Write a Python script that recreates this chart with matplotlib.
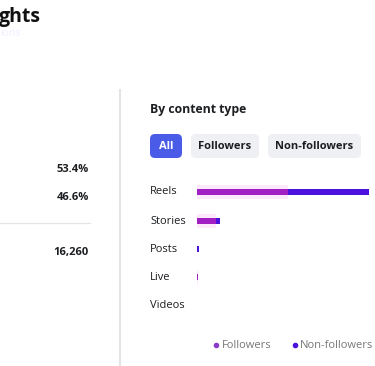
import matplotlib
matplotlib.use("Agg")
from matplotlib import pyplot as plt
from matplotlib.patches import FancyBboxPatch

plt.rcParams['font.family'] = ['Open Sans', 'DejaVu Sans']

# data
content_types = ["Reels", "Stories", "Posts", "Live", "Videos"]
followers = [53.0, 11.0, 0.0, 0.6, 0.0]
non_followers = [47.0, 2.5, 1.2, 0.0, 0.0]
summary_values = ["53.4%", "46.6%", "16,260"]
buttons = ["All", "Followers", "Non-followers"]

c_fol = "#a21fc4"
c_non = "#4a12dc"
c_text = "#1c1e21"

fig = plt.figure(figsize=(3.75, 3.66), dpi=100)
bg = fig.add_axes([0, 0, 1, 1])
bg.set_xlim(0, 375)
bg.set_ylim(366, 0)
bg.axis("off")

# header (cut off)
bg.text(-1, 17, "ghts", fontsize=14, fontweight="bold", color="#111111", va="center")
bg.text(0, 33, "ions", fontsize=7.5, color="#eef0ff", va="center")

# divider
bg.plot([120, 120], [90, 366], color="#e4e4e4", lw=1.5)

# left column numbers
bg.text(89, 170, summary_values[0], fontsize=8, fontweight="bold", color=c_text, ha="right", va="center")
bg.text(89, 197, summary_values[1], fontsize=8, fontweight="bold", color=c_text, ha="right", va="center")
bg.plot([0, 90], [223, 223], color="#e4e4e4", lw=0.9)
bg.text(89, 252, summary_values[2], fontsize=8, fontweight="bold", color=c_text, ha="right", va="center")

# right panel
bg.text(150, 109, "By content type", fontsize=8.8, fontweight="bold", color=c_text, va="center")

btn_x = [150, 191, 268]
btn_w = [32, 68, 93]
for i, name in enumerate(buttons):
    fc = "#4a5be8" if i == 0 else "#eff0f3"
    tc = "white" if i == 0 else c_text
    bg.add_patch(FancyBboxPatch((btn_x[i], 134), btn_w[i], 24,
                                boxstyle="round,pad=0,rounding_size=5",
                                fc=fc, ec="none"))
    bg.text(btn_x[i] + btn_w[i] / 2, 146.5, name, fontsize=8, fontweight="bold",
            color=tc, ha="center", va="center")

row_y = [192, 221, 250, 278, 306]
for lab, y in zip(content_types, row_y):
    bg.text(150, y, lab, fontsize=8, color=c_text, va="center")

# bars
ax = fig.add_axes([197 / 375, 1 - 320 / 366, 172 / 375, 142 / 366])
ax.set_xlim(0, 100)
ax.set_ylim(len(content_types) - 0.5, -0.5)
pos = range(len(content_types))
ax.barh(pos, followers, height=0.5, color="#fde9fb")
ax.barh(pos, followers, height=0.21, color=c_fol)
ax.barh(pos, non_followers, left=followers, height=0.21, color=c_non)
ax.axis("off")

# legend
bg.scatter([216], [345], s=9, color="#8a3cc8")
bg.text(222, 345, "Followers", fontsize=8, color="#777777", va="center")
bg.scatter([295], [345], s=9, color=c_non)
bg.text(300, 345, "Non-followers", fontsize=8, color="#777777", va="center")

fig.savefig("out.png", dpi=100)
